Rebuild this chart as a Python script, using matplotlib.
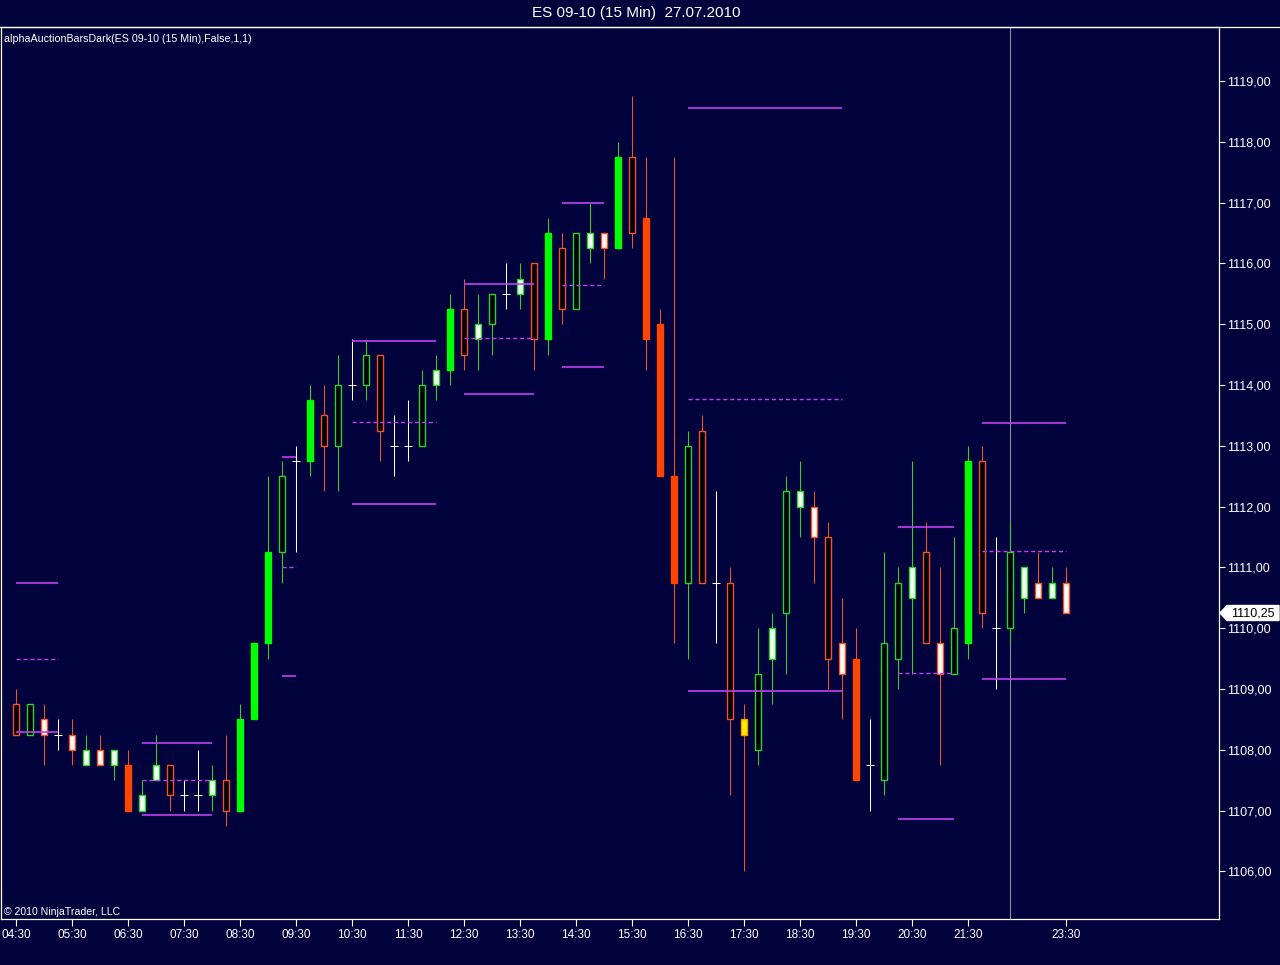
import matplotlib
matplotlib.use('Agg')
import matplotlib.pyplot as plt
import matplotlib.transforms as mtransforms
from matplotlib.patches import Polygon
from matplotlib.ticker import FuncFormatter

# bar kinds: fg/fr = filled green/red, hg/hr = hollow green/red,
# wg/wr = white body green/red edge, dj = doji cross, yl = yellow bar
kinds = ['hr', 'hg', 'wr', 'dj', 'wr', 'wg', 'wr', 'wg', 'fr', 'wg',
         'wg', 'hr', 'dj', 'dj', 'wg', 'hr', 'fg', 'fg', 'fg', 'hg',
         'dj', 'fg', 'hr', 'hg', 'dj', 'hg', 'hr', 'dj', 'dj', 'hg',
         'wg', 'fg', 'hr', 'wg', 'hg', 'dj', 'wg', 'hr', 'fg', 'hr',
         'hg', 'wg', 'wr', 'fg', 'hr', 'fr', 'fr', 'fr', 'hg', 'hr',
         'dj', 'hr', 'yl', 'hg', 'wg', 'hg', 'wg', 'wr', 'hr', 'wr',
         'fr', 'dj', 'hg', 'hg', 'wg', 'hr', 'wr', 'hg', 'fg', 'hr',
         'dj', 'hg', 'wg', 'wr', 'wg', 'wr']

opens = [1108.75, 1108.25, 1108.5, 1108.25, 1108.25, 1107.75, 1108.0, 1107.75, 1107.75, 1107.0,
         1107.5, 1107.75, 1107.25, 1107.25, 1107.25, 1107.5, 1107.0, 1108.5, 1109.75, 1111.25,
         1112.75, 1112.75, 1113.5, 1113.0, 1114.0, 1114.0, 1114.5, 1113.0, 1113.0, 1113.0,
         1114.0, 1114.25, 1115.25, 1114.75, 1115.0, 1115.5, 1115.5, 1116.0, 1114.75, 1116.25,
         1115.25, 1116.25, 1116.5, 1116.25, 1117.75, 1116.75, 1115.0, 1112.5, 1110.75, 1113.25,
         1110.75, 1110.75, 1108.5, 1108.0, 1109.5, 1110.25, 1112.0, 1112.0, 1111.5, 1109.75,
         1109.5, 1107.75, 1107.5, 1109.5, 1110.5, 1111.25, 1109.75, 1109.25, 1109.75, 1112.75,
         1110.0, 1110.0, 1110.5, 1110.75, 1110.5, 1110.75]

closes = [1108.25, 1108.75, 1108.25, 1108.25, 1108.0, 1108.0, 1107.75, 1108.0, 1107.0, 1107.25,
          1107.75, 1107.25, 1107.25, 1107.25, 1107.5, 1107.0, 1108.5, 1109.75, 1111.25, 1112.5,
          1112.75, 1113.75, 1113.0, 1114.0, 1114.0, 1114.5, 1113.25, 1113.0, 1113.0, 1114.0,
          1114.25, 1115.25, 1114.5, 1115.0, 1115.5, 1115.5, 1115.75, 1114.75, 1116.5, 1115.25,
          1116.5, 1116.5, 1116.25, 1117.75, 1116.5, 1114.75, 1112.5, 1110.75, 1113.0, 1110.75,
          1110.75, 1108.5, 1108.25, 1109.25, 1110.0, 1112.25, 1112.25, 1111.5, 1109.5, 1109.25,
          1107.5, 1107.75, 1109.75, 1110.75, 1111.0, 1109.75, 1109.25, 1110.0, 1112.75, 1110.25,
          1110.0, 1111.25, 1111.0, 1110.5, 1110.75, 1110.25]

highs = [1109.0, 1108.75, 1108.75, 1108.5, 1108.5, 1108.25, 1108.25, 1108.0, 1108.0, 1107.5,
         1108.25, 1107.75, 1107.5, 1108.0, 1107.75, 1108.25, 1108.75, 1109.75, 1112.5, 1112.75,
         1113.0, 1114.0, 1114.0, 1114.5, 1114.75, 1114.75, 1114.5, 1113.5, 1113.75, 1114.25,
         1114.5, 1115.5, 1115.75, 1115.5, 1115.5, 1116.0, 1116.0, 1116.0, 1116.75, 1116.5,
         1116.5, 1117.0, 1116.5, 1118.0, 1118.75, 1117.75, 1115.25, 1117.75, 1113.25, 1113.5,
         1112.25, 1111.0, 1108.75, 1110.0, 1110.25, 1112.5, 1112.75, 1112.25, 1111.75, 1110.5,
         1110.0, 1108.5, 1111.25, 1111.0, 1112.75, 1111.75, 1111.0, 1111.5, 1113.0, 1113.0,
         1111.5, 1111.75, 1111.0, 1111.25, 1111.0, 1111.0]

lows = [1108.25, 1108.25, 1107.75, 1108.0, 1107.75, 1107.75, 1107.75, 1107.5, 1107.0, 1107.0,
        1107.5, 1107.0, 1107.0, 1107.0, 1107.0, 1106.75, 1107.0, 1108.5, 1109.5, 1110.75,
        1111.25, 1112.5, 1112.25, 1112.25, 1113.75, 1113.75, 1112.75, 1112.5, 1112.75, 1113.0,
        1113.75, 1114.0, 1114.25, 1114.25, 1114.5, 1115.25, 1115.25, 1114.25, 1114.5, 1115.0,
        1115.25, 1116.0, 1115.75, 1116.25, 1116.25, 1114.25, 1112.5, 1109.75, 1109.5, 1110.75,
        1109.75, 1107.25, 1106.0, 1107.75, 1108.75, 1109.25, 1111.5, 1110.75, 1109.0, 1108.5,
        1107.5, 1107.0, 1107.25, 1109.0, 1109.25, 1109.75, 1107.75, 1109.25, 1109.5, 1110.0,
        1109.0, 1109.75, 1110.25, 1110.5, 1110.5, 1110.25]

# auction levels: first bar, last bar, high (solid), mid (dashed), low (solid)
lvl_start = [0, 9, 19, 24, 32, 39, 48, 63, 69]
lvl_end = [3, 14, 20, 30, 37, 42, 59, 67, 75]
lvl_high = [1110.75, 1108.12, 1112.81, 1114.73, 1115.66, 1117.0, 1118.56, 1111.66, 1113.37]
lvl_mid = [1109.5, 1107.5, 1111.0, 1113.39, 1114.77, 1115.64, 1113.77, 1109.26, 1111.27]
lvl_low = [1108.3, 1106.93, 1109.21, 1112.04, 1113.86, 1114.29, 1108.97, 1106.87, 1109.16]

time_pos = [0, 4, 8, 12, 16, 20, 24, 28, 32, 36, 40, 44, 48, 52, 56, 60, 64, 68, 75]
time_labels = ['04:30', '05:30', '06:30', '07:30', '08:30', '09:30', '10:30', '11:30', '12:30',
               '13:30', '14:30', '15:30', '16:30', '17:30', '18:30', '19:30', '20:30', '21:30',
               '23:30']
price_ticks = list(range(1106, 1120))
session_bar = 71
last_price = 1110.25

BG = '#02023c'
GREEN = '#00ff00'
GREEN_EDGE = '#2ed22e'
RED = '#ff4500'
RED_EDGE = '#f0552a'
MAGENTA = '#c040f0'
FONT = ['Liberation Sans', 'DejaVu Sans']

W, H = 1280, 965


def px_x(p):
    return p / W


def px_y(p):
    return 1 - p / H


def main():
    plt.rcParams['font.family'] = FONT
    fig = plt.figure(figsize=(W / 100, H / 100), dpi=100, facecolor=BG)
    # plot area: x 1..1219 px, y 27..919 px
    ax = fig.add_axes([px_x(1), px_y(919), (1219 - 1) / W, (919 - 27) / H], facecolor=BG)

    ax.set_xlim((1 - 16) / 14, (1219 - 16) / 14)
    ax.set_ylim(1119 - (919 - 81) / 60.8, 1119 + (81 - 27) / 60.8)

    lw = 0.75
    for i, k in enumerate(kinds):
        o, h, l, c = opens[i], highs[i], lows[i], closes[i]
        lo, hi = min(o, c), max(o, c)
        if k == 'dj':
            ax.vlines(i, l, h, colors='white', lw=lw, zorder=3)
            ax.hlines(c, i - 0.28, i + 0.28, colors='white', lw=lw, zorder=3)
            continue
        if k in ('fg', 'hg', 'wg'):
            wick = GREEN_EDGE
        else:
            wick = RED_EDGE
        if k == 'fg':
            fill, edge = GREEN, GREEN
        elif k == 'fr':
            fill, edge = RED, RED
        elif k == 'hg':
            fill, edge = '#000000', GREEN_EDGE
        elif k == 'hr':
            fill, edge = '#000000', RED_EDGE
        elif k == 'wg':
            fill, edge = '#f2fff2', GREEN_EDGE
        elif k == 'wr':
            fill, edge = '#fff8f4', RED_EDGE
        else:
            fill, edge = '#ffee00', '#ff9a00'
        ax.vlines(i, l, h, colors=wick, lw=lw, zorder=2)
        ax.bar(i, hi - lo, bottom=lo, width=0.48, color=fill, edgecolor=edge,
               linewidth=1.0, zorder=3)

    # auction levels
    for s, e, hv, mv, lv in zip(lvl_start, lvl_end, lvl_high, lvl_mid, lvl_low):
        ax.hlines([hv, lv], s, e, colors=MAGENTA, lw=1.2, zorder=4)
        ax.hlines(mv, s, e, colors=MAGENTA, lw=1.0, linestyles=(0, (3, 2)), zorder=4)

    # session break
    ax.axvline(session_bar, color='#8c8ca6', lw=0.8, zorder=1)

    # axes styling
    for side in ('left', 'bottom', 'right', 'top'):
        ax.spines[side].set_color('white')
        ax.spines[side].set_linewidth(0.9)
    ax.yaxis.tick_right()
    ax.set_yticks(price_ticks)
    ax.yaxis.set_major_formatter(FuncFormatter(lambda v, p: ('%.2f' % v).replace('.', ',')))
    ax.set_xticks(time_pos)
    ax.set_xticklabels(time_labels)
    ax.tick_params(axis='y', colors='white', length=4, width=0.8, pad=1.5, labelsize=9)
    ax.tick_params(axis='x', colors='white', length=5, width=0.8, pad=2, labelsize=8.5)

    # texts
    fig.text(px_x(636), px_y(13), 'ES 09-10 (15 Min)  27.07.2010', color='white',
             fontsize=11, ha='center', va='center')
    fig.text(px_x(4), px_y(39), 'alphaAuctionBarsDark(ES 09-10 (15 Min),False,1,1)',
             color='white', fontsize=7.7, ha='left', va='center')
    fig.text(px_x(4), px_y(912), '\u00a9 2010 NinjaTrader, LLC', color='white',
             fontsize=7.6, ha='left', va='center')

    # top border across the whole width
    fig.add_artist(plt.Line2D([0, 1], [px_y(27), px_y(27)], color='white', lw=0.9,
                              transform=fig.transFigure))

    # last price marker
    tr = mtransforms.blended_transform_factory(fig.transFigure, ax.transData)
    hh = 7.5 / 60.8
    pts = [(px_x(1220), last_price), (px_x(1227), last_price + hh), (px_x(1279), last_price + hh),
           (px_x(1279), last_price - hh), (px_x(1227), last_price - hh)]
    ax.add_patch(Polygon(pts, closed=True, facecolor='white', edgecolor='white',
                         transform=tr, clip_on=False, zorder=6))
    ax.text(px_x(1253), last_price, ('%.2f' % last_price).replace('.', ','), transform=tr,
            color='black', fontsize=9, ha='center', va='center', clip_on=False, zorder=7)

    fig.savefig('out.png', dpi=100, facecolor=BG)


if __name__ == '__main__':
    main()
